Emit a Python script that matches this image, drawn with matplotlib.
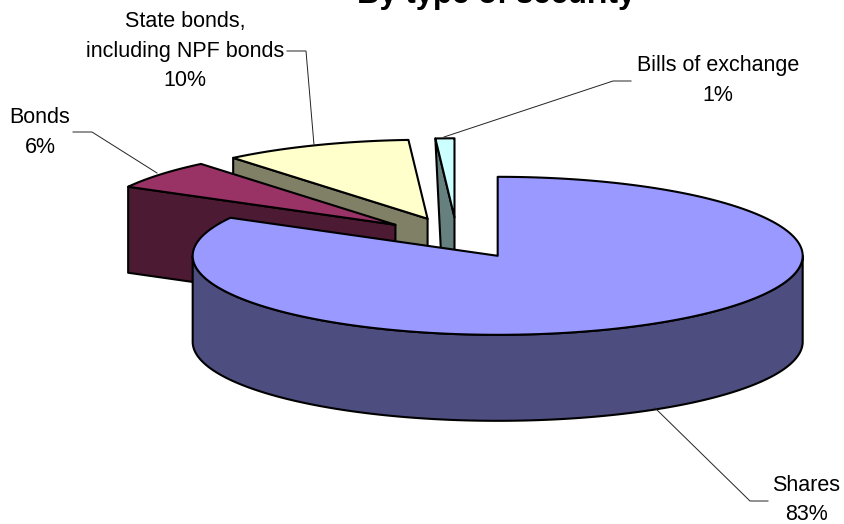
"""
Exploded 3D-style pie: portfolio by type of security
"""

import numpy as np
import matplotlib
matplotlib.use('Agg')
import matplotlib.pyplot as plt
from matplotlib.patches import Polygon

plt.rcParams['font.family'] = ['Liberation Sans', 'DejaVu Sans']

labels = ['Shares', 'Bonds', 'State bonds,\nincluding NPF bonds', 'Bills of exchange']
values = [83, 6, 10, 1]
top_colors = ['#9999FF', '#993366', '#FFFFCC', '#CCFFFF']
side_colors = ['#4D4D80', '#4D1A33', '#808066', '#668080']

# pie geometry, in pixels of the 844x524 picture
CX, CY = 457, 238
RX, RY = 305, 79
DEPTH = 86
EXPLODE = 0.262
EDGE = 1.5


def rim(angle, center):
    a = np.radians(angle)
    return center[0] + RX * np.cos(a), center[1] - RY * np.sin(a)


fig = plt.figure(figsize=(8.44, 5.24), dpi=100)
ax = fig.add_axes([0, 0, 1, 1])
ax.set_xlim(0, 844)
ax.set_ylim(524, 0)
ax.axis('off')

# slices run clockwise from 12 o'clock
ends = 90 - np.cumsum(values) * 3.6
starts = ends + np.array(values) * 3.6

# back slices first, shares last
for i in [3, 2, 1, 0]:
    mid = np.radians((starts[i] + ends[i]) / 2)
    apex = (CX + EXPLODE * RX * np.cos(mid), CY - EXPLODE * RY * np.sin(mid))

    # outer wall, only the front-facing part of the arc
    if i == 0:
        t = np.linspace(0, -180, 200)
        upper = np.array([rim(a, apex) for a in t])
        lower = upper[::-1] + [0, DEPTH]
        ax.add_patch(Polygon(np.vstack([upper, lower]), closed=True,
                             facecolor=side_colors[i], edgecolor='black',
                             linewidth=EDGE, joinstyle='round'))
    else:
        # cut face along the leading edge
        r = rim(starts[i], apex)
        bottom_rim = (r[0], r[1] + DEPTH)
        if i == 3:
            # this face tapers in the original
            bottom_rim = (r[0] + 6, r[1] + 121)
        wall = [r, apex, (apex[0], apex[1] + DEPTH), bottom_rim]
        ax.add_patch(Polygon(wall, closed=True, facecolor=side_colors[i],
                             edgecolor='black', linewidth=EDGE, joinstyle='round'))

    # top face
    t = np.linspace(starts[i], ends[i], 300)
    arc = np.array([rim(a, apex) for a in t])
    ax.add_patch(Polygon(np.vstack([[apex], arc]), closed=True,
                         facecolor=top_colors[i], edgecolor='black',
                         linewidth=EDGE, joinstyle='round'))

# leader lines
leader_xs = [[655, 750, 768], [157, 92, 73], [314, 306, 287], [444, 613, 631]]
leader_ys = [[408, 501, 501], [173, 132, 132], [145, 51, 51], [137, 81, 81]]
for xs, ys in zip(leader_xs, leader_ys):
    ax.plot(xs, ys, color='#222222', linewidth=0.7, solid_joinstyle='miter')

# labels
label_xs = [806, 40, 185, 718]
label_ys = [500, 132.5, 51, 80.5]
for name, v, x, y in zip(labels, values, label_xs, label_ys):
    ax.text(x, y, f'{name}\n{v}%', ha='center', va='center', fontsize=15.5,
            linespacing=1.56, color='black', clip_on=False)

ax.text(496, 3.5, 'By type of security', ha='center', va='baseline', fontsize=22.4,
        fontweight='bold', color='black')

fig.savefig('out.png', dpi=100, facecolor='white')
